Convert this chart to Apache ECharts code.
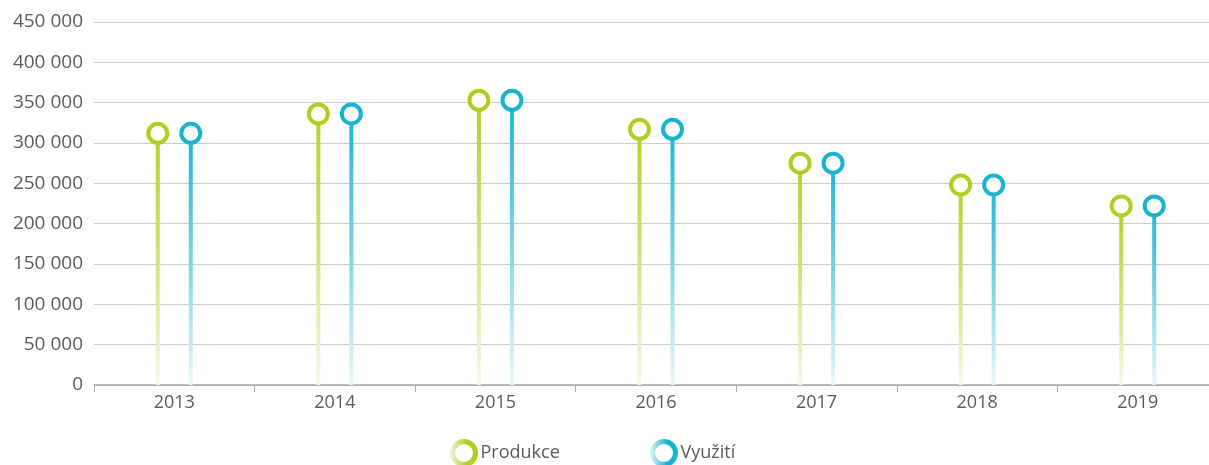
<!DOCTYPE html>
<html>
<head>
<meta charset="utf-8">
<script src="https://cdn.jsdelivr.net/npm/echarts@6/dist/echarts.min.js"></script>
<style>
html,body{margin:0;padding:0;background:#fff;}
#chart{width:1209px;height:465px;}
</style>
</head>
<body>
<div id="chart"></div>
<script>
const categories = ['2013', '2014', '2015', '2016', '2017', '2018', '2019'];
const produkce = [312000, 336000, 353000, 317000, 275000, 248000, 222000];
const vyuziti = [312000, 336000, 353000, 317000, 275000, 248000, 222000];
const yTicks = { min: 0, max: 450000, interval: 50000 };
const seriesNames = ['Produkce', 'Využití'];

const GREEN = '#b4cb1f';
const BLUE = '#17b4d0';
const FONT = 'Open Sans';
const TEXT = '#5a5a5a';

function stemGradient(top, mid, bottom) {
  return new echarts.graphic.LinearGradient(0, 0, 0, 1, [
    { offset: 0, color: top },
    { offset: 0.45, color: mid },
    { offset: 1, color: bottom }
  ]);
}
function ringGradient(pale, c) {
  return new echarts.graphic.LinearGradient(0, 0.5, 1, 0.5, [
    { offset: 0, color: pale },
    { offset: 0.6, color: c },
    { offset: 1, color: c }
  ]);
}
function fmt(v) {
  return String(v).replace(/\B(?=(\d{3})+(?!\d))/g, ' ');
}

const legendBase = {
  top: 439, icon: 'circle', itemWidth: 23, itemHeight: 23, itemGap: 0, padding: 0,
  textStyle: { fontFamily: FONT, fontSize: 18, color: TEXT }
};

const chart = echarts.init(document.getElementById('chart'));
chart.setOption({
  animation: false,
  textStyle: { fontFamily: FONT },
  grid: { left: 94, width: 1124, top: 22, bottom: 80, containLabel: false, outerBoundsMode: 'none' },
  legend: [
    Object.assign({}, legendBase, {
      left: 450,
      data: [{ name: seriesNames[0], itemStyle: { color: '#fff', borderColor: ringGradient('#f2f6df', GREEN), borderWidth: 5 } }]
    }),
    Object.assign({}, legendBase, {
      left: 650,
      data: [{ name: seriesNames[1], itemStyle: { color: '#fff', borderColor: ringGradient('#e2f4f8', BLUE), borderWidth: 5 } }]
    })
  ],
  xAxis: {
    type: 'category',
    data: categories,
    boundaryGap: true,
    axisLine: { lineStyle: { color: '#a6a6a6', width: 1.5 } },
    axisTick: { show: true, length: 7, lineStyle: { color: '#a6a6a6' } },
    axisLabel: { fontFamily: FONT, fontSize: 18, color: TEXT, margin: 9 }
  },
  yAxis: {
    type: 'value',
    min: yTicks.min, max: yTicks.max, interval: yTicks.interval,
    axisLine: { show: false },
    axisTick: { show: false },
    splitLine: { lineStyle: { color: '#cccccc', width: 1.2 } },
    axisLabel: { fontFamily: FONT, fontSize: 19, color: TEXT, margin: 11, formatter: fmt }
  },
  series: [
    {
      name: seriesNames[0], type: 'bar', data: produkce, barWidth: 4, barGap: '725%',
      itemStyle: { color: stemGradient('#b7ce2a', '#d0df72', '#f7f9ea') },
      z: 2
    },
    {
      name: seriesNames[1], type: 'bar', data: vyuziti, barWidth: 4, barGap: '725%',
      itemStyle: { color: stemGradient('#1cb6d1', '#72d0e2', '#eaf8fb') },
      z: 2
    },
    {
      name: seriesNames[0], type: 'scatter', data: produkce, symbol: 'circle', symbolSize: 19,
      symbolOffset: [-16.5, 0],
      itemStyle: { color: '#ffffff', borderColor: GREEN, borderWidth: 4, opacity: 1 },
      z: 5
    },
    {
      name: seriesNames[1], type: 'scatter', data: vyuziti, symbol: 'circle', symbolSize: 19,
      symbolOffset: [16.5, 0],
      itemStyle: { color: '#ffffff', borderColor: BLUE, borderWidth: 4, opacity: 1 },
      z: 5
    }
  ]
});
</script>
</body>
</html>
